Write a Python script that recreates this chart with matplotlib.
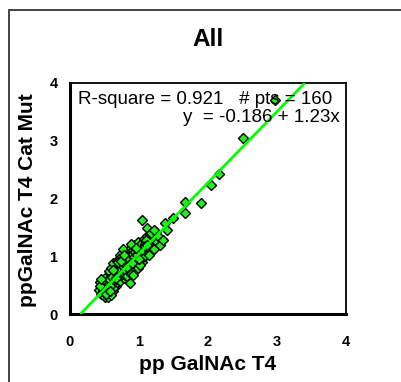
import matplotlib
matplotlib.use("Agg")
import matplotlib.pyplot as plt
from matplotlib.patches import Rectangle

plt.rcParams['font.family'] = ['Liberation Sans', 'DejaVu Sans']

# ---- data ----
x_vals = [
    0.42, 0.45, 0.47, 0.48, 0.50, 0.52, 0.53, 0.55, 0.44, 0.50, 0.46, 0.51, 0.54, 0.49, 0.43,
    0.56, 0.57, 0.58, 0.59, 0.60, 0.61, 0.62, 0.63, 0.64, 0.65, 0.66, 0.67, 0.68, 0.69, 0.70,
    0.57, 0.59, 0.62, 0.64, 0.66, 0.68, 0.60, 0.63, 0.56, 0.65, 0.58, 0.61, 0.67, 0.69, 0.70,
    0.71, 0.72, 0.73, 0.74, 0.75, 0.76, 0.77, 0.78, 0.79, 0.80, 0.81, 0.82, 0.83, 0.84, 0.85,
    0.72, 0.74, 0.76, 0.78, 0.80, 0.82, 0.84, 0.73, 0.77, 0.79, 0.81, 0.83, 0.75, 0.71, 0.85,
    0.86, 0.87, 0.87, 0.88, 0.89, 0.90, 0.91, 0.92, 0.93, 0.94, 0.95, 0.96, 0.97, 0.98, 0.99,
    1.00, 0.86, 0.88, 0.90, 0.92, 0.94, 0.96, 0.98, 0.89, 0.91, 0.93, 0.95, 0.97, 0.99, 0.87,
    1.01, 1.02, 1.03, 1.04, 1.05, 1.06, 1.07, 1.08, 1.09, 1.10, 1.11, 1.12, 1.13, 1.14, 1.15,
    1.16, 1.18, 1.20, 1.22, 1.24, 1.26, 1.28, 1.30, 1.02, 1.06, 1.10, 1.14, 1.18, 1.22, 1.05,
    1.35, 1.38, 1.40, 1.50, 1.67, 1.67, 1.90, 2.04, 2.16, 2.51, 2.97,
    0.45, 0.52, 0.58, 0.62, 0.66, 0.70, 0.74, 0.78, 0.82, 0.90, 0.95, 1.00, 1.08, 1.12,
]
y_vals = [
    0.42, 0.35, 0.50, 0.40, 0.30, 0.45, 0.58, 0.29, 0.55, 0.62, 0.46, 0.38, 0.50, 0.55, 0.48,
    0.36, 0.52, 0.62, 0.44, 0.70, 0.55, 0.40, 0.66, 0.78, 0.58, 0.48, 0.72, 0.62, 0.85, 0.55,
    0.74, 0.80, 0.88, 0.50, 0.80, 0.92, 0.33, 0.45, 0.60, 0.70, 0.48, 0.64, 0.60, 0.70, 0.78,
    0.66, 0.90, 0.58, 0.80, 1.00, 0.72, 0.86, 0.62, 0.95, 0.80, 1.06, 0.70, 0.92, 0.85, 1.10,
    0.75, 0.68, 0.92, 0.84, 0.68, 0.98, 0.74, 1.02, 1.12, 0.76, 0.88, 0.66, 0.84, 0.95, 0.95,
    0.80, 0.54, 1.00, 1.15, 0.90, 0.75, 1.10, 0.95, 1.20, 0.82, 1.05, 0.92, 1.18, 0.88, 1.00,
    1.12, 0.95, 0.70, 1.02, 0.85, 1.08, 0.78, 1.25, 1.22, 0.68, 0.98, 0.88, 1.02, 0.80, 0.86,
    0.95, 1.20, 1.05, 1.62, 0.90, 1.15, 1.30, 1.00, 1.22, 1.10, 1.35, 1.49, 1.05, 1.25, 1.15,
    1.38, 1.20, 1.30, 1.12, 1.42, 1.25, 1.35, 1.20, 0.85, 0.98, 1.28, 1.02, 1.40, 1.45, 1.10,
    1.28, 1.58, 1.45, 1.66, 1.75, 1.94, 1.92, 2.23, 2.42, 3.05, 3.71,
    0.60, 0.34, 0.40, 0.76, 0.62, 0.90, 0.92, 1.02, 0.82, 0.88, 1.15, 0.95, 1.18, 1.20,
]
fit_intercept = -0.186
fit_slope = 1.23
r_square = 0.921
n_pts = 160
x_ticks = [0, 1, 2, 3, 4]
y_ticks = [0, 1, 2, 3, 4]

W, H = 402, 382
fig = plt.figure(figsize=(W / 100, H / 100), dpi=100)

# outer frame
fig.patches.append(Rectangle((9 / W, -0.05), 1.2, 1 - 10 / H + 0.05,
                             transform=fig.transFigure, fill=False,
                             edgecolor='#333333', linewidth=1.3))

ax = fig.add_axes([70 / W, 1 - 314 / H, (346 - 70) / W, (314 - 83) / H])

ax.plot(x_vals, y_vals, linestyle='none', marker='D', markersize=4.8,
        markerfacecolor='#22ee22', markeredgecolor='black', markeredgewidth=1.0,
        zorder=2)

x0 = -fit_intercept / fit_slope
x1 = (4 - fit_intercept) / fit_slope
ax.plot([x0, x1], [fit_intercept + fit_slope * x0, fit_intercept + fit_slope * x1],
        color='#00ff00', linewidth=2.0, zorder=3, solid_capstyle='butt')

ax.set_xlim(0, 4)
ax.set_ylim(0, 4)
ax.set_xticks(x_ticks)
ax.set_yticks(y_ticks)
ax.set_xticklabels([str(t) for t in x_ticks], fontsize=10.5, fontweight='bold')
ax.set_yticklabels([str(t) for t in y_ticks], fontsize=10.5, fontweight='bold')
ax.tick_params(axis='both', length=0)
ax.tick_params(axis='x', pad=15)
ax.tick_params(axis='y', pad=9)

for s in ['left', 'bottom']:
    ax.spines[s].set_linewidth(2.2)
for s in ['top', 'right']:
    ax.spines[s].set_linewidth(1.3)

ax.text(8 / 276, 1 - 17 / 231, f"R-square = {r_square}   # pts = {n_pts}",
        transform=ax.transAxes, fontsize=13.5, ha='left', va='center', zorder=5)
ax.text(1 - 6 / 276, 1 - 35 / 231, f"y  = {fit_intercept} + {fit_slope}x",
        transform=ax.transAxes, fontsize=13.5, ha='right', va='center', zorder=5)

fig.text(208 / W, 1 - 40 / H, "All", fontsize=17.5, fontweight='bold',
         ha='center', va='center')
fig.text(208 / W, 1 - 365 / H, "pp GalNAc T4", fontsize=15, fontweight='bold',
         ha='center', va='center')
fig.text(28 / W, 1 - 200 / H, "ppGalNAc T4 Cat Mut", fontsize=15, fontweight='bold',
         ha='center', va='center', rotation=90)

fig.savefig("out.png", dpi=100)
